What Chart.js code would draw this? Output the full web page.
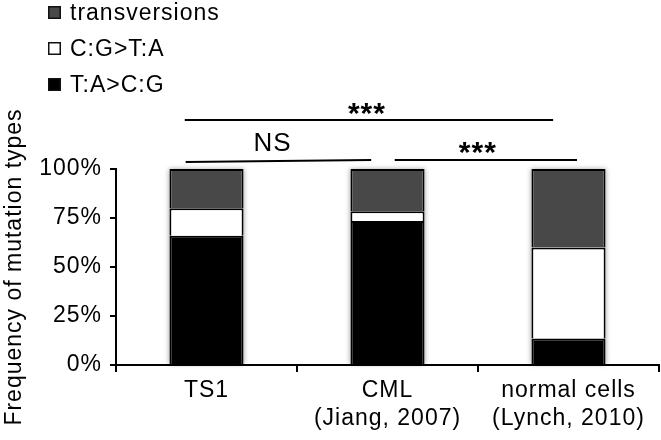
<!DOCTYPE html>
<html>
<head>
<meta charset="utf-8">
<script src="https://cdn.jsdelivr.net/npm/chart.js@4/dist/chart.umd.min.js"></script>
<style>
  html, body { margin: 0; padding: 0; background: #fff; }
  #chart { display: block; }
</style>
</head>
<body>
<canvas id="chart" width="661" height="440"></canvas>
<script>
// values (percent of mutations)
const categories = ['TS1', ['CML', '(Jiang, 2007)'], ['normal cells', '(Lynch, 2010)']];
const seriesNames = ['T:A>C:G', 'C:G>T:A', 'transversions'];
const tacgValues = [66, 73.5, 13.5];
const cgtaValues = [14, 5, 46.5];
const transversionValues = [20, 21.5, 40];
const yTicks = [0, 25, 50, 75, 100];
const comparisons = [
    { from: 0, to: 2, label: '***' },
    { from: 0, to: 1, label: 'NS' },
    { from: 1, to: 2, label: '***' }
];

const FONT = '"Liberation Sans", Arial, Helvetica, sans-serif';
const SPACING = '1px';

Chart.defaults.font.family = FONT;
Chart.defaults.font.size = 23;
Chart.defaults.color = '#000';

// the original lettering is a bit wider than Arial, so track it out a little
const spacingPlugin = {
    id: 'spacing',
    beforeUpdate(chart) { chart.ctx.letterSpacing = SPACING; },
    beforeDraw(chart) { chart.ctx.letterSpacing = SPACING; }
};

// soft shadow behind each whole stacked bar
const shadowPlugin = {
    id: 'barShadow',
    beforeDatasetsDraw(chart) {
        const ctx = chart.ctx;
        const metas = chart.data.datasets.map((d, i) => chart.getDatasetMeta(i));
        ctx.save();
        ctx.shadowColor = 'rgba(0, 0, 0, 0.35)';
        ctx.shadowBlur = 5;
        ctx.fillStyle = '#fff';
        metas[0].data.forEach(function (bar, j) {
            const top = Math.min.apply(null, metas.map(m => m.data[j].y));
            ctx.fillRect(bar.x - bar.width / 2, top, bar.width, bar.base - top);
        });
        ctx.restore();
    }
};

// legend stacked in a column at top left, top series first
const legendPlugin = {
    id: 'columnLegend',
    afterDraw(chart) {
        const ctx = chart.ctx;
        const sets = chart.data.datasets.slice().reverse();
        ctx.save();
        ctx.letterSpacing = SPACING;
        ctx.font = '23px ' + FONT;
        ctx.textBaseline = 'middle';
        ctx.textAlign = 'left';
        sets.forEach(function (ds, i) {
            const cy = 12.5 + i * 36;
            ctx.fillStyle = ds.backgroundColor;
            ctx.fillRect(48, cy - 6.5, 13, 13);
            ctx.lineWidth = 1.5;
            ctx.strokeStyle = '#111';
            ctx.strokeRect(48.75, cy - 5.75, 11.5, 11.5);
            ctx.fillStyle = '#000';
            ctx.fillText(ds.label, 70, cy + 1);
        });
        ctx.restore();
    }
};

// significance lines above the bars
const bracketLook = [
    { y1: 125, y2: 125, dx1: -0.12, dx2: -0.085, tdx: -2, lift: -2.5, font: 'bold 30px ' },
    { y1: 103.6, y2: 104.6, dx1: -0.115, dx2: -0.09, tdx: -6, lift: 10, font: '26px ' },
    { y1: 104.6, y2: 104.6, dx1: 0.04, dx2: 0.047, tdx: -8, lift: -2, font: 'bold 30px ' }
];

const bracketPlugin = {
    id: 'brackets',
    afterDraw(chart) {
        const ctx = chart.ctx;
        const xs = chart.scales.x;
        const ys = chart.scales.y;
        const cw = xs.getPixelForValue(1) - xs.getPixelForValue(0);
        ctx.save();
        ctx.letterSpacing = SPACING;
        ctx.strokeStyle = '#000';
        ctx.fillStyle = '#000';
        ctx.lineWidth = 2;
        ctx.textAlign = 'center';
        ctx.textBaseline = 'alphabetic';
        comparisons.forEach(function (c, i) {
            const look = bracketLook[i];
            const x1 = xs.getPixelForValue(c.from) + look.dx1 * cw;
            const x2 = xs.getPixelForValue(c.to) + look.dx2 * cw;
            const y1 = ys.getPixelForValue(look.y1);
            const y2 = ys.getPixelForValue(look.y2);
            ctx.beginPath();
            ctx.moveTo(x1, y1);
            ctx.lineTo(x2, y2);
            ctx.stroke();
            ctx.font = look.font + FONT;
            ctx.fillText(c.label, (x1 + x2) / 2 + look.tdx, (y1 + y2) / 2 - look.lift);
        });
        ctx.restore();
    }
};

const barStyle = { borderColor: '#000', borderWidth: 2, barPercentage: 0.41, categoryPercentage: 1 };

new Chart(document.getElementById('chart'), {
    type: 'bar',
    data: {
        labels: categories,
        datasets: [
            Object.assign({ label: seriesNames[0], data: tacgValues, backgroundColor: '#000000' }, barStyle),
            Object.assign({ label: seriesNames[1], data: cgtaValues, backgroundColor: '#ffffff' }, barStyle),
            Object.assign({ label: seriesNames[2], data: transversionValues, backgroundColor: '#484848' }, barStyle)
        ]
    },
    options: {
        responsive: false,
        animation: false,
        layout: { padding: { top: 169, right: 2, left: 0, bottom: 0 } },
        plugins: {
            legend: { display: false },
            tooltip: { enabled: false }
        },
        scales: {
            x: {
                stacked: true,
                ticks: { padding: 5, maxRotation: 0, autoSkip: false, color: '#000', font: { lineHeight: 1.22 } },
                grid: { drawOnChartArea: false, offset: true, tickLength: 7, color: '#000', lineWidth: 2 },
                border: { color: '#000', width: 2 },
                afterFit(scale) { scale.height = 75; }
            },
            y: {
                stacked: true,
                min: 0,
                max: 100,
                afterBuildTicks(scale) { scale.ticks = yTicks.map(v => ({ value: v })); },
                ticks: { padding: 8, color: '#000', callback: v => v + '%' },
                grid: { drawOnChartArea: false, tickLength: 6, color: '#000', lineWidth: 2 },
                border: { color: '#000', width: 2 },
                title: {
                    display: true,
                    text: 'Frequency of mutation types',
                    color: '#000',
                    font: { size: 23 },
                    padding: { top: 1, bottom: 0 }
                },
                afterFit(scale) { scale.width = 116; }
            }
        }
    },
    plugins: [spacingPlugin, shadowPlugin, legendPlugin, bracketPlugin]
});
</script>
</body>
</html>
